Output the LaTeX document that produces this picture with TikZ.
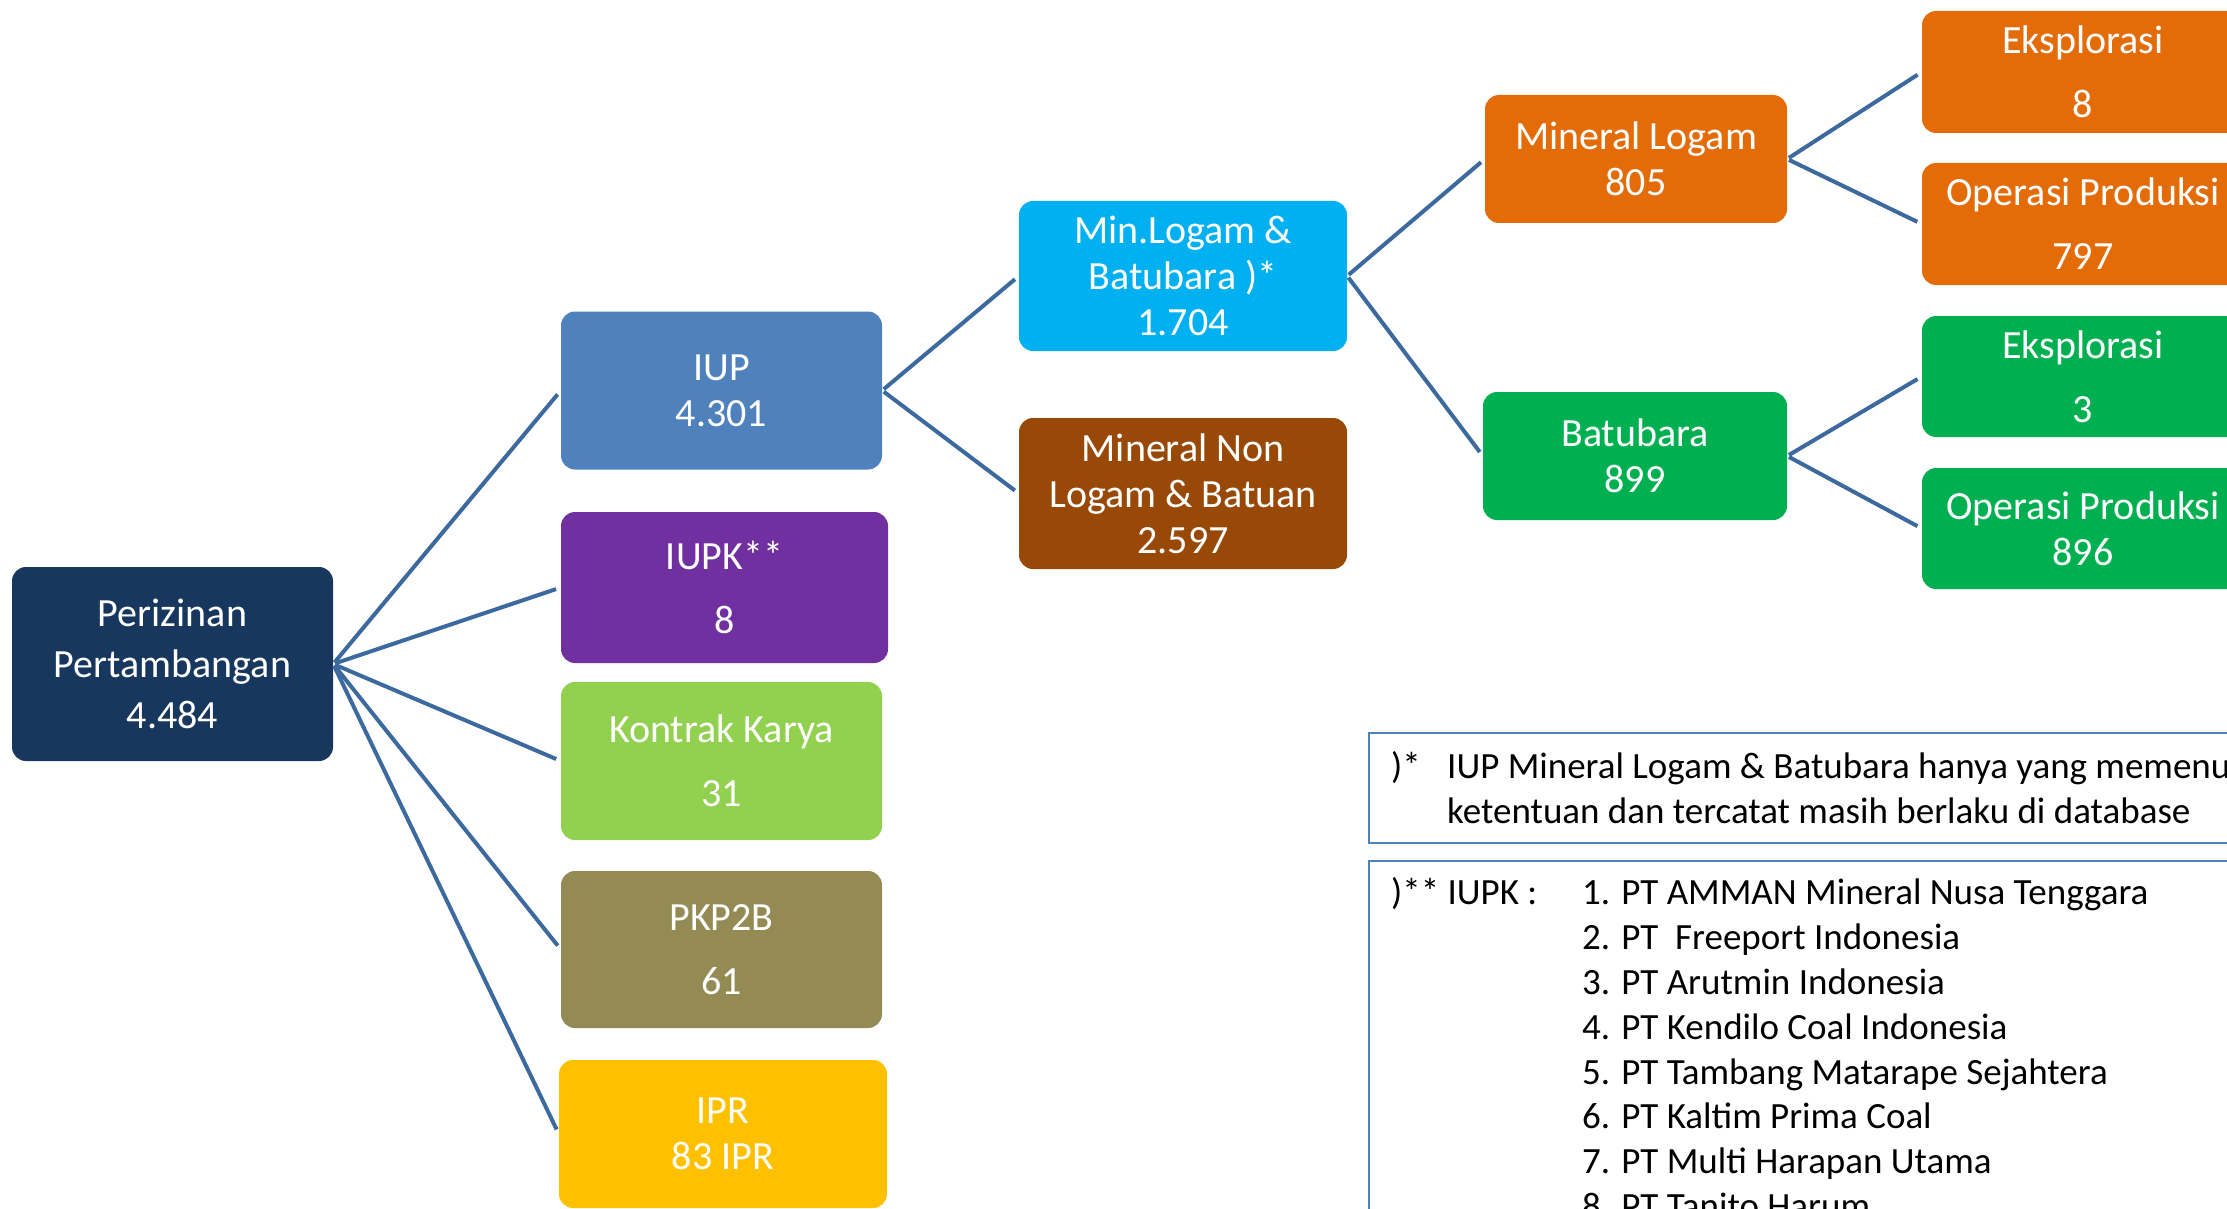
\documentclass[tikz,border=0pt]{standalone}
\usepackage{fontspec}
\setmainfont{Carlito}
\usepackage{tikz}
\definecolor{rootnavy}{RGB}{24,55,94}
\definecolor{iupblue}{RGB}{79,129,189}
\definecolor{iupkpurple}{RGB}{112,48,160}
\definecolor{kkgreen}{RGB}{146,208,80}
\definecolor{pkpolive}{RGB}{148,138,84}
\definecolor{iprgold}{RGB}{255,192,0}
\definecolor{minsky}{RGB}{0,176,240}
\definecolor{nonbrown}{RGB}{152,72,7}
\definecolor{logamorange}{RGB}{227,108,9}
\definecolor{coalgreen}{RGB}{0,176,80}
\definecolor{linkblue}{RGB}{61,106,158}
\definecolor{noteblue}{RGB}{79,129,189}
\def\boxfont{\fontsize{40}{46}\selectfont}
\def\notefont{\fontsize{37}{45}\selectfont}
\tikzset{
	box/.style={rectangle, rounded corners=14pt, text=white, align=center, inner sep=0pt, font=\boxfont},
	link/.style={draw=linkblue, line width=4pt, shorten <=2pt, shorten >=5pt},
	notebox/.style={draw=noteblue, line width=2pt},
	notetext/.style={anchor=base west, inner sep=0pt, font=\notefont}
}

\begin{document}
\begin{tikzpicture}[x=1pt, y=-1pt]
			%%%%% START %%%%%
			\useasboundingbox (0, 0) rectangle (2227, 1209);
			\clip (0, 0) rectangle (2227, 1209);
			
			\node[box, fill=rootnavy, minimum width=321pt, minimum height=194pt, font=\fontsize{40}{51}\selectfont] (root) at (172.5, 664) {Perizinan\\Pertambangan\\4.484};
			
			\node[box, fill=iupblue, minimum width=321pt, minimum height=158pt] (iup) at (721.5, 390.5) {IUP\\4.301};
			\node[box, fill=iupkpurple, minimum width=327pt, minimum height=151pt] (iupk) at (724.5, 587.5) {IUPK**\\[18pt]8};
			\node[box, fill=kkgreen, minimum width=321pt, minimum height=158pt] (kk) at (721.5, 761) {Kontrak Karya\\[18pt]31};
			\node[box, fill=pkpolive, minimum width=321pt, minimum height=157pt] (pkp) at (721.5, 949.5) {PKP2B\\[18pt]61};
			\node[box, fill=iprgold, minimum width=328pt, minimum height=148pt] (ipr) at (723, 1134) {IPR\\83 IPR};
			
			\node[box, fill=minsky, minimum width=328pt, minimum height=150pt] (minlog) at (1183, 276) {Min.Logam \&\\Batubara )*\\1.704};
			\node[box, fill=nonbrown, minimum width=328pt, minimum height=151pt] (minnon) at (1183, 493.5) {Mineral Non\\Logam \& Batuan\\2.597};
			
			\node[box, fill=logamorange, minimum width=302pt, minimum height=128pt] (logam) at (1636, 159) {Mineral Logam\\805};
			\node[box, fill=coalgreen, minimum width=304pt, minimum height=128pt] (coal) at (1635, 456) {Batubara\\899};
			
			\node[box, fill=logamorange, minimum width=322pt, minimum height=122pt] (logameks) at (2083, 72) {Eksplorasi\\[18pt]8};
			\node[box, fill=logamorange, minimum width=322pt, minimum height=122pt] (logamop) at (2083, 224) {Operasi Produksi\\[18pt]797};
			\node[box, fill=coalgreen, minimum width=322pt, minimum height=121pt] (coaleks) at (2083, 376.5) {Eksplorasi\\[18pt]3};
			\node[box, fill=coalgreen, minimum width=322pt, minimum height=121pt] (coalop) at (2083, 528.5) {Operasi Produksi\\896};
			
			\draw[link] (root.east) -- (iup.west);
			\draw[link] (root.east) -- (iupk.west);
			\draw[link] (root.east) -- (kk.west);
			\draw[link] (root.east) -- (pkp.west);
			\draw[link] (root.east) -- (ipr.west);
			
			\draw[link] (iup.east) -- (minlog.west);
			\draw[link] (iup.east) -- (minnon.west);
			
			\draw[link] (minlog.east) -- (logam.west);
			\draw[link] (minlog.east) -- (coal.west);
			
			\draw[link] (logam.east) -- (logameks.west);
			\draw[link] (logam.east) -- (logamop.west);
			\draw[link] (coal.east) -- (coaleks.west);
			\draw[link] (coal.east) -- (coalop.west);
			
			\draw[notebox] (1369, 733) rectangle (2245, 843);
			\node[notetext] (starone) at (1391, 778) {)*};
			\node[notetext] (noteone) at (1447, 778) {IUP Mineral Logam \& Batubara hanya yang memenuhi};
			\node[notetext] (notetwo) at (1447, 823) {ketentuan dan tercatat masih berlaku di database};
			
			\draw[notebox] (1369, 861) rectangle (2245, 1230);
			\node[notetext] (startwo) at (1391, 904) {)** IUPK :};
			\node[notetext] (pt1) at (1582, 904) {1. PT AMMAN Mineral Nusa Tenggara};
			\node[notetext] (pt2) at (1582, 949) {2. PT\ \ Freeport Indonesia};
			\node[notetext] (pt3) at (1582, 994) {3. PT Arutmin Indonesia};
			\node[notetext] (pt4) at (1582, 1039) {4. PT Kendilo Coal Indonesia};
			\node[notetext] (pt5) at (1582, 1084) {5. PT Tambang Matarape Sejahtera};
			\node[notetext] (pt6) at (1582, 1128) {6. PT Kaltim Prima Coal};
			\node[notetext] (pt7) at (1582, 1173) {7. PT Multi Harapan Utama};
			\node[notetext] (pt8) at (1582, 1218) {8. PT Tanito Harum};
			
			%%%%% END %%%%%
		\end{tikzpicture}
\end{document}
